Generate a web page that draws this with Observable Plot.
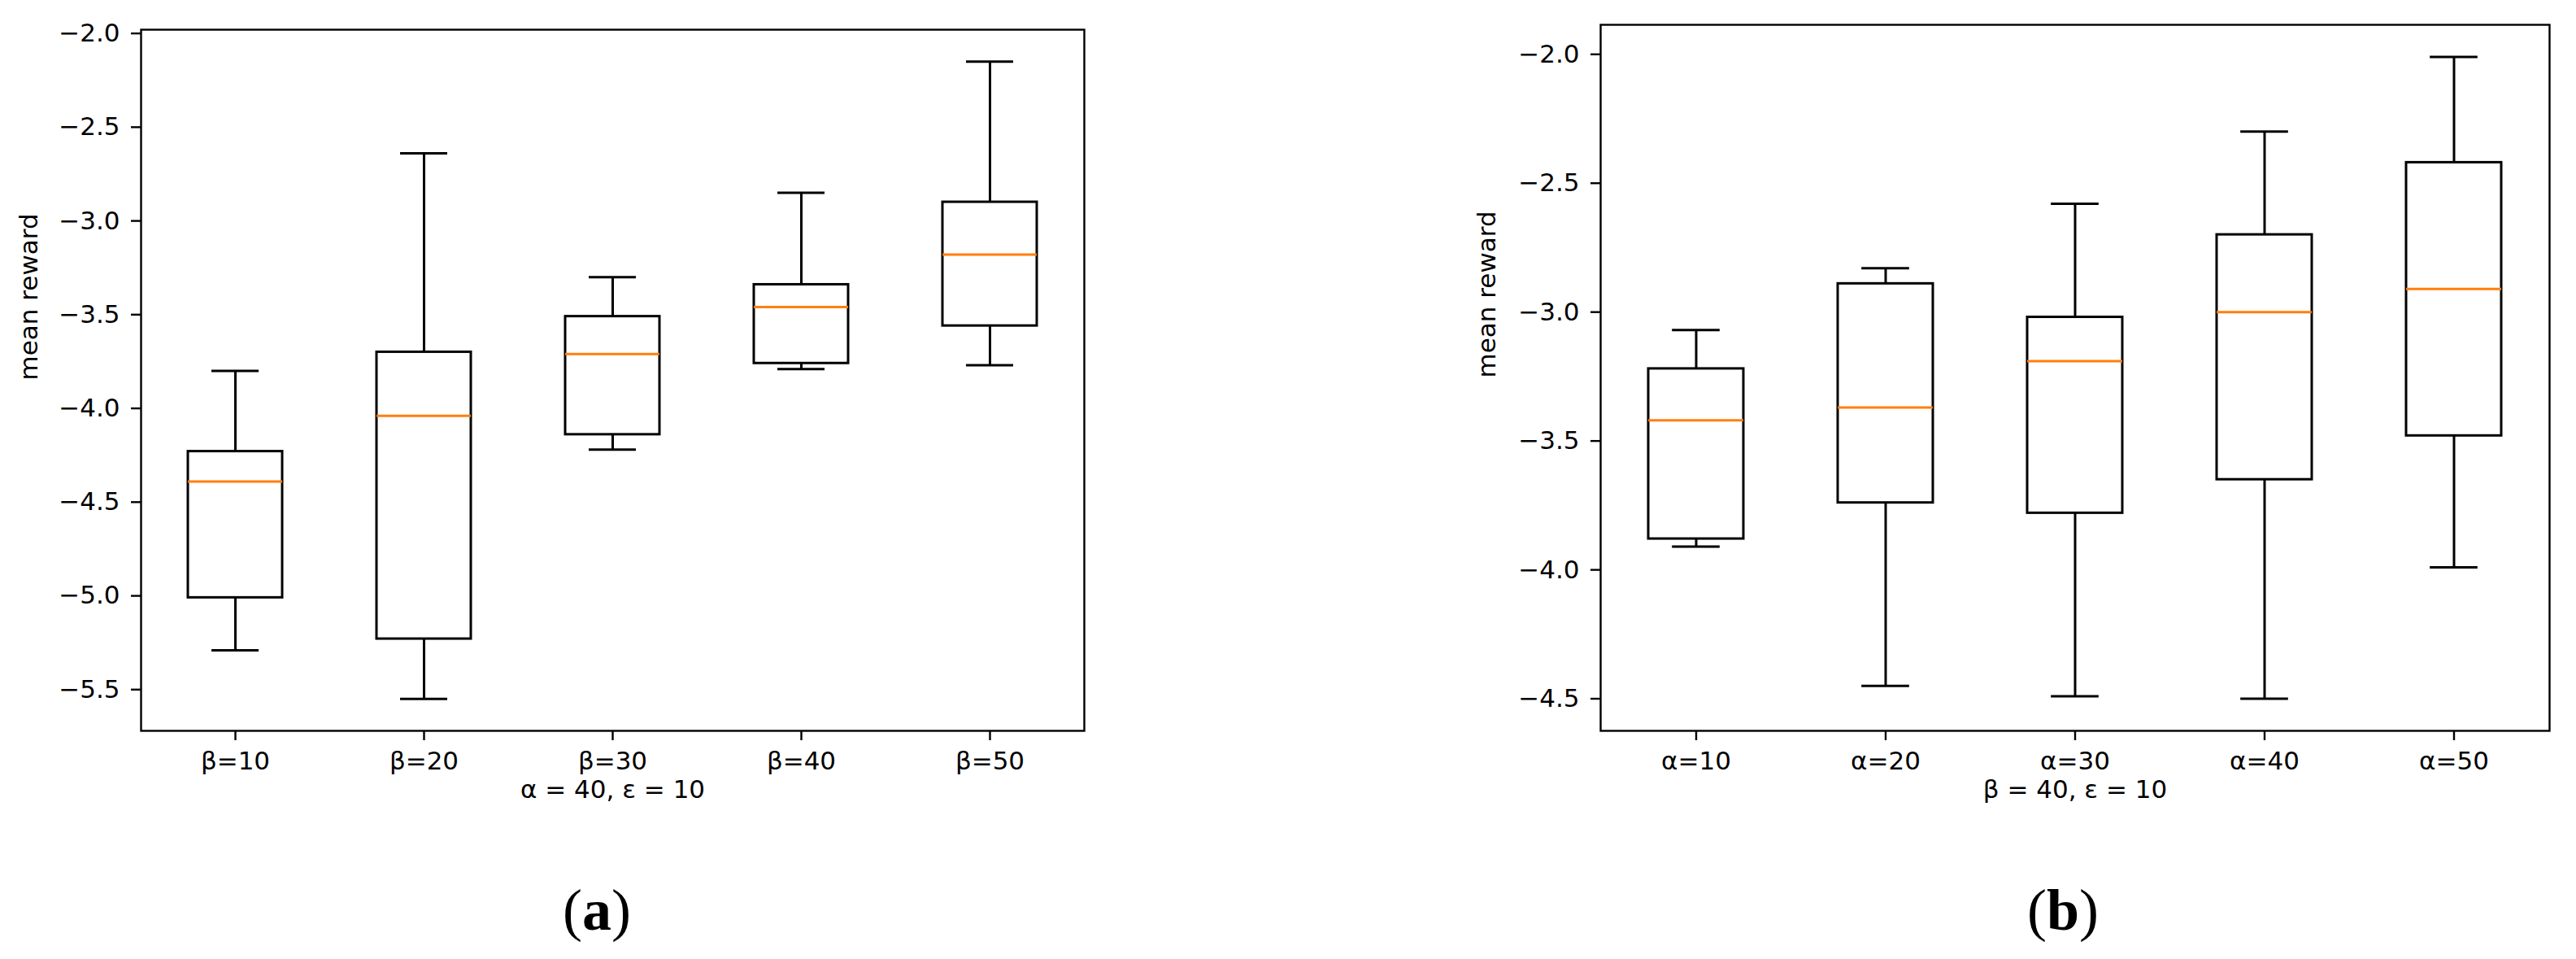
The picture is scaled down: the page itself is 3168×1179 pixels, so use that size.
<!DOCTYPE html>
<html>
<head>
<meta charset="utf-8">
<script src="https://cdn.jsdelivr.net/npm/d3@7"></script>
<script src="https://cdn.jsdelivr.net/npm/@observablehq/plot@0.6"></script>
<style>
  html, body { margin: 0; padding: 0; background: #ffffff; }
  #wrap { position: relative; width: 3168px; height: 1179px; background: #ffffff; overflow: hidden; }
  .panel { position: absolute; top: 0; }
  .cap { position: absolute; font-family: "Liberation Serif", "Times New Roman", serif; font-size: 72px; line-height: 72px; text-align: center; color: #000; }
  .cap b { font-weight: bold; }
</style>
</head>
<body>
<div id="wrap">
  <div class="panel" id="pa" style="left:0px;width:1500px"></div>
  <div class="panel" id="pb" style="left:1584px;width:1584px"></div>
  <div class="cap" id="ca" style="left:0px;width:1468px;top:1083px"></div>
  <div class="cap" id="cb" style="left:1584px;width:1906px;top:1083px"></div>
</div>
<script>
// ---- Panel (a): α = 40, ε = 10 ----
const categoriesA = ["β=10", "β=20", "β=30", "β=40", "β=50"];
const lowA  = [-5.29, -5.55, -4.22, -3.79, -3.77];
const q1A   = [-5.01, -5.23, -4.14, -3.76, -3.56];
const medA  = [-4.39, -4.04, -3.71, -3.46, -3.18];
const q3A   = [-4.23, -3.70, -3.51, -3.34, -2.90];
const highA = [-3.80, -2.64, -3.30, -2.85, -2.15];
const yTicksA = [-5.5, -5.0, -4.5, -4.0, -3.5, -3.0, -2.5, -2.0];
const xLabelA = "α = 40, ε = 10";

// ---- Panel (b): β = 40, ε = 10 ----
const categoriesB = ["α=10", "α=20", "α=30", "α=40", "α=50"];
const lowB  = [-3.91, -4.45, -4.49, -4.50, -3.99];
const q1B   = [-3.88, -3.74, -3.78, -3.65, -3.48];
const medB  = [-3.42, -3.37, -3.19, -3.00, -2.91];
const q3B   = [-3.22, -2.89, -3.02, -2.70, -2.42];
const highB = [-3.07, -2.83, -2.58, -2.30, -2.01];
const yTicksB = [-4.5, -4.0, -3.5, -3.0, -2.5, -2.0];
const xLabelB = "β = 40, ε = 10";

const yLabel = "mean reward";
const captions = ["a", "b"];

function boxChart(o) {
  const data = o.cats.map((c, i) => ({cat: c, low: o.low[i], q1: o.q1[i], med: o.med[i], q3: o.q3[i], high: o.high[i]}));
  const lo = d3.min(o.low), hi = d3.max(o.high), pad = (hi - lo) * 0.05;
  const step = (o.width - o.ml - o.mr) / o.cats.length;
  const capInset = step * 0.5 / 4;
  const lw = 3;
  return Plot.plot({
    width: o.width, height: o.height,
    marginLeft: o.ml, marginRight: o.mr, marginTop: o.mt, marginBottom: o.mb,
    style: {fontFamily: "'DejaVu Sans', sans-serif", fontSize: "31px", color: "#000", background: "#fff", overflow: "visible"},
    x: {domain: o.cats, type: "band", paddingInner: 0.5, paddingOuter: 0.25, label: null},
    y: {domain: [lo - pad, hi + pad], label: null},
    marks: [
      Plot.ruleX(data, {x: "cat", y1: "q3", y2: "high", stroke: "#000", strokeWidth: lw}),
      Plot.ruleX(data, {x: "cat", y1: "low", y2: "q1", stroke: "#000", strokeWidth: lw}),
      Plot.tickY(data, {x: "cat", y: "high", insetLeft: capInset, insetRight: capInset, stroke: "#000", strokeWidth: lw}),
      Plot.tickY(data, {x: "cat", y: "low", insetLeft: capInset, insetRight: capInset, stroke: "#000", strokeWidth: lw}),
      Plot.barY(data, {x: "cat", y1: "q1", y2: "q3", fill: "#fff", stroke: "#000", strokeWidth: lw}),
      Plot.tickY(data, {x: "cat", y: "med", stroke: "#ff7f0e", strokeWidth: lw}),
      Plot.frame({stroke: "#000", strokeWidth: 2.4}),
      Plot.axisY({ticks: o.yTicks, tickFormat: d3.format(".1f"), tickSize: 12, tickPadding: 14, stroke: "#000", strokeWidth: 2.4, fontSize: 31, label: null}),
      Plot.axisX({tickSize: 12, tickPadding: 13, stroke: "#000", strokeWidth: 2.4, fontSize: 31, label: null}),
      Plot.text([yLabel], {text: d => d, frameAnchor: "left", dx: -o.yLabelOff, rotate: -90, fontSize: 31, fill: "#000"}),
      Plot.text([o.xlabel], {text: d => d, frameAnchor: "bottom", dy: 82, fontSize: 31, fill: "#000"})
    ]
  });
}

document.getElementById("pa").append(boxChart({
  cats: categoriesA, low: lowA, q1: q1A, med: medA, q3: q3A, high: highA,
  yTicks: yTicksA, xlabel: xLabelA,
  width: 1500, height: 1010, ml: 173, mr: 167, mt: 36, mb: 112, yLabelOff: 137
}));
document.getElementById("pb").append(boxChart({
  cats: categoriesB, low: lowB, q1: q1B, med: medB, q3: q3B, high: highB,
  yTicks: yTicksB, xlabel: xLabelB,
  width: 1584, height: 1010, ml: 384, mr: 33, mt: 30, mb: 112, yLabelOff: 139
}));

document.getElementById("ca").innerHTML = "(<b>" + captions[0] + "</b>)";
document.getElementById("cb").innerHTML = "(<b>" + captions[1] + "</b>)";
</script>
</body>
</html>
